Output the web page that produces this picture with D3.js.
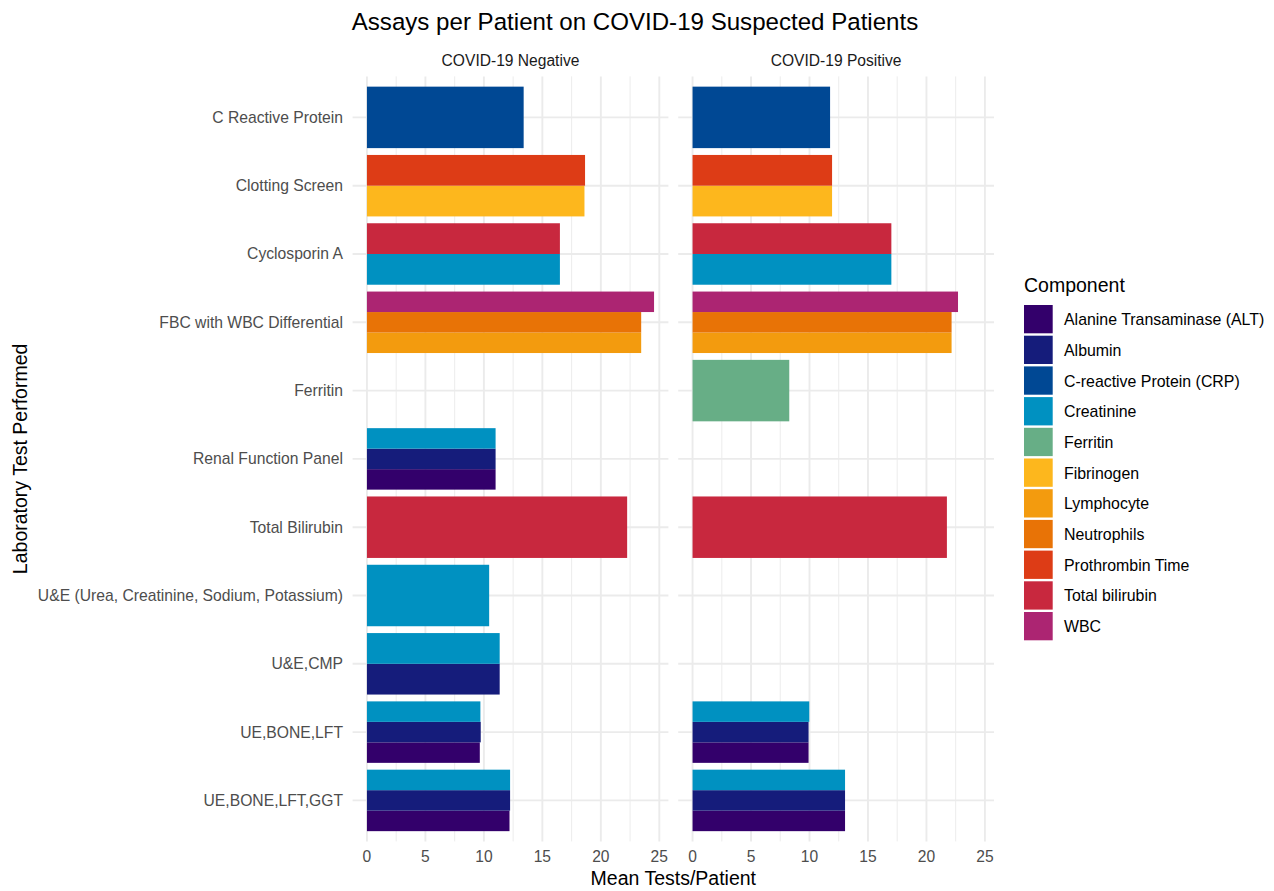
<!DOCTYPE html>
<html>
<head>
<meta charset="utf-8">
<script src="https://cdn.jsdelivr.net/npm/d3@7"></script>
<style>
  body { margin: 0; background: #fff; }
  text { font-family: "Liberation Sans", Arial, Helvetica, sans-serif; }
</style>
</head>
<body>
<div id="chart"></div>
<script>
// DATA
var tests = [
  "C Reactive Protein", "Clotting Screen", "Cyclosporin A", "FBC with WBC Differential",
  "Ferritin", "Renal Function Panel", "Total Bilirubin",
  "U&E (Urea, Creatinine, Sodium, Potassium)", "U&E,CMP", "UE,BONE,LFT", "UE,BONE,LFT,GGT"
];

var components = [
  "Alanine Transaminase (ALT)", "Albumin", "C-reactive Protein (CRP)", "Creatinine",
  "Ferritin", "Fibrinogen", "Lymphocyte", "Neutrophils", "Prothrombin Time",
  "Total bilirubin", "WBC"
];

var componentColors = [
  "#33006b", "#151c7b", "#004894", "#0091c1", "#67ae86", "#fdb71d",
  "#f39b0e", "#e87306", "#dd3c16", "#c8283e", "#ac2572"
];

var facets = ["COVID-19 Negative", "COVID-19 Positive"];

// [test, component, mean tests per patient]
var negative = [
  ["C Reactive Protein", "C-reactive Protein (CRP)", 13.4],
  ["Clotting Screen", "Fibrinogen", 18.6],
  ["Clotting Screen", "Prothrombin Time", 18.65],
  ["Cyclosporin A", "Creatinine", 16.5],
  ["Cyclosporin A", "Total bilirubin", 16.5],
  ["FBC with WBC Differential", "Lymphocyte", 23.45],
  ["FBC with WBC Differential", "Neutrophils", 23.45],
  ["FBC with WBC Differential", "WBC", 24.55],
  ["Renal Function Panel", "Alanine Transaminase (ALT)", 11.0],
  ["Renal Function Panel", "Albumin", 11.0],
  ["Renal Function Panel", "Creatinine", 11.0],
  ["Total Bilirubin", "Total bilirubin", 22.25],
  ["U&E (Urea, Creatinine, Sodium, Potassium)", "Creatinine", 10.45],
  ["U&E,CMP", "Albumin", 11.35],
  ["U&E,CMP", "Creatinine", 11.35],
  ["UE,BONE,LFT", "Alanine Transaminase (ALT)", 9.65],
  ["UE,BONE,LFT", "Albumin", 9.73],
  ["UE,BONE,LFT", "Creatinine", 9.7],
  ["UE,BONE,LFT,GGT", "Alanine Transaminase (ALT)", 12.19],
  ["UE,BONE,LFT,GGT", "Albumin", 12.24],
  ["UE,BONE,LFT,GGT", "Creatinine", 12.24]
];

var positive = [
  ["C Reactive Protein", "C-reactive Protein (CRP)", 11.76],
  ["Clotting Screen", "Fibrinogen", 11.93],
  ["Clotting Screen", "Prothrombin Time", 11.93],
  ["Cyclosporin A", "Creatinine", 17.0],
  ["Cyclosporin A", "Total bilirubin", 17.0],
  ["FBC with WBC Differential", "Lymphocyte", 22.15],
  ["FBC with WBC Differential", "Neutrophils", 22.15],
  ["FBC with WBC Differential", "WBC", 22.7],
  ["Ferritin", "Ferritin", 8.27],
  ["Total Bilirubin", "Total bilirubin", 21.75],
  ["UE,BONE,LFT", "Alanine Transaminase (ALT)", 9.92],
  ["UE,BONE,LFT", "Albumin", 9.92],
  ["UE,BONE,LFT", "Creatinine", 9.98],
  ["UE,BONE,LFT,GGT", "Alanine Transaminase (ALT)", 13.04],
  ["UE,BONE,LFT,GGT", "Albumin", 13.04],
  ["UE,BONE,LFT,GGT", "Creatinine", 13.04]
];

var xTicks = [0, 5, 10, 15, 20, 25];
var xMinorTicks = [2.5, 7.5, 12.5, 17.5, 22.5];

// SET UP DIMENSIONS
var W = 1274, H = 891;
var panelTop = 76.4, panelBottom = 841.4;
var panelX = [352.6, 678.2], panelW = 315.8;

var svg = d3.select("#chart").append("svg")
  .attr("width", W)
  .attr("height", H);

// SCALES
var maxVal = d3.max(negative.concat(positive), function(d) { return d[2]; });
var pad = maxVal * 0.05;
var x = d3.scaleLinear().domain([-pad, maxVal + pad]).range([0, panelW]);

var y = d3.scaleBand()
  .domain(tests)
  .range([panelTop, panelBottom])
  .paddingInner(0.1)
  .paddingOuter(0.15);

var color = d3.scaleOrdinal().domain(components).range(componentColors);

function translation(a, b) { return "translate(" + a + "," + b + ")"; }

[negative, positive].forEach(function(rows, fi) {
  var g = svg.append("g").attr("transform", translation(panelX[fi], 0));

  // grid
  g.selectAll(".minor").data(xMinorTicks).enter().append("line")
    .attr("x1", function(d) { return x(d); }).attr("x2", function(d) { return x(d); })
    .attr("y1", panelTop).attr("y2", panelBottom)
    .attr("stroke", "#ebebeb").attr("stroke-width", 0.95);
  g.selectAll(".major").data(xTicks).enter().append("line")
    .attr("x1", function(d) { return x(d); }).attr("x2", function(d) { return x(d); })
    .attr("y1", panelTop).attr("y2", panelBottom)
    .attr("stroke", "#ebebeb").attr("stroke-width", 1.9);
  g.selectAll(".hgrid").data(tests).enter().append("line")
    .attr("x1", 0).attr("x2", panelW)
    .attr("y1", function(d) { return y(d) + y.bandwidth() / 2; })
    .attr("y2", function(d) { return y(d) + y.bandwidth() / 2; })
    .attr("stroke", "#ebebeb").attr("stroke-width", 1.9);

  // bars, dodged within each test (first component at the bottom)
  var byTest = d3.group(rows, function(d) { return d[0]; });
  byTest.forEach(function(items, test) {
    var comps = items.map(function(d) { return d[1]; }).sort(function(a, b) {
      return components.indexOf(b) - components.indexOf(a);
    });
    var sub = d3.scaleBand().domain(comps).range([0, y.bandwidth()]);
    g.selectAll(null).data(items).enter().append("rect")
      .attr("x", x(0))
      .attr("y", function(d) { return y(test) + sub(d[1]); })
      .attr("width", function(d) { return x(d[2]) - x(0); })
      .attr("height", sub.bandwidth())
      .attr("fill", function(d) { return color(d[1]); });
  });

  // strip label
  g.append("text")
    .attr("x", panelW / 2).attr("y", 60.5).attr("dy", "0.35em")
    .attr("text-anchor", "middle")
    .attr("font-size", 15.6).attr("fill", "#1a1a1a")
    .text(facets[fi]);

  // x axis labels
  g.selectAll(".xt").data(xTicks).enter().append("text")
    .attr("x", function(d) { return x(d); }).attr("y", 857).attr("dy", "0.35em")
    .attr("text-anchor", "middle")
    .attr("font-size", 15.6).attr("fill", "#4d4d4d")
    .text(function(d) { return d; });
});

// y axis labels
svg.selectAll(".yt").data(tests).enter().append("text")
  .attr("x", 343).attr("y", function(d) { return y(d) + y.bandwidth() / 2; })
  .attr("dy", "0.35em")
  .attr("text-anchor", "end")
  .attr("font-size", 15.7).attr("fill", "#4d4d4d")
  .text(function(d) { return d; });

// titles
svg.append("text")
  .attr("x", 635).attr("y", 22).attr("dy", "0.35em")
  .attr("text-anchor", "middle").attr("font-size", 24.1).attr("fill", "#000")
  .text("Assays per Patient on COVID-19 Suspected Patients");

svg.append("text")
  .attr("x", (panelX[0] + panelX[1] + panelW) / 2).attr("y", 878).attr("dy", "0.35em")
  .attr("text-anchor", "middle").attr("font-size", 19.5).attr("fill", "#000")
  .text("Mean Tests/Patient");

svg.append("text")
  .attr("transform", translation(20, (panelTop + panelBottom) / 2) + " rotate(-90)")
  .attr("dy", "0.35em")
  .attr("text-anchor", "middle").attr("font-size", 19.5).attr("fill", "#000")
  .text("Laboratory Test Performed");

// LEGEND
var legend = svg.append("g").attr("transform", translation(1024, 0));
legend.append("text")
  .attr("x", 0).attr("y", 285).attr("dy", "0.35em")
  .attr("font-size", 19.5).attr("fill", "#000")
  .text("Component");

var keyStep = 30.7;
var keys = legend.selectAll(".key").data(components).enter().append("g")
  .attr("transform", function(d, i) { return translation(0, 305 + i * keyStep); });
keys.append("rect")
  .attr("width", 28.7).attr("height", 28.3)
  .attr("fill", function(d) { return color(d); });
keys.append("text")
  .attr("x", 40).attr("y", 14.6).attr("dy", "0.35em")
  .attr("font-size", 15.9).attr("fill", "#000")
  .text(function(d) { return d; });
</script>
</body>
</html>
